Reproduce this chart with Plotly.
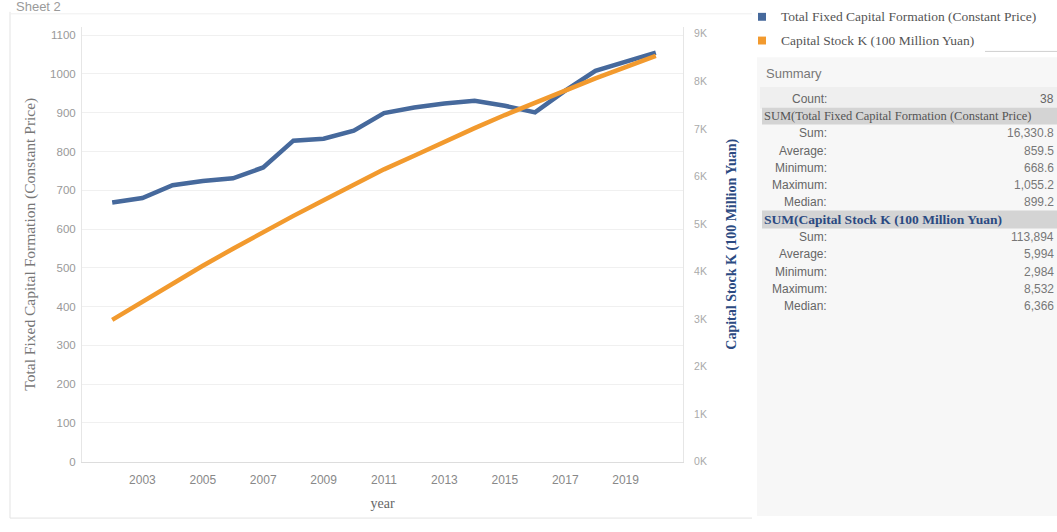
import plotly.graph_objects as go

years = list(range(2002, 2021))
tfcf = [668.6, 680, 713, 724, 731, 759, 828, 833, 854, 899.2, 913.8, 924, 931, 918, 901, 957, 1008, 1033, 1055.2]
capital_stock = [2984, 3370, 3745, 4120, 4480, 4830, 5170, 5500, 5820, 6148, 6435, 6730, 7015, 7290, 7555, 7810, 8060, 8300, 8532]
x_ticks = [2003, 2005, 2007, 2009, 2011, 2013, 2015, 2017, 2019]
left_ticks = list(range(0, 1200, 100))
right_ticks = list(range(0, 10000, 1000))
right_ticktext = [f"{v // 1000}K" for v in right_ticks]

summary_labels = ["Sum:", "Average:", "Minimum:", "Maximum:", "Median:"]
summary_tfcf = ["16,330.8", "859.5", "668.6", "1,055.2", "899.2"]
summary_k = ["113,894", "5,994", "2,984", "8,532", "6,366"]

W, H = 1057, 532
BLUE = "#46699c"
ORANGE = "#f29a2e"
SERIF = "Liberation Serif"
SANS = "Liberation Sans"


def px(x):
    return x / W


def py(y):
    return (H - y) / H


fig = go.Figure()
fig.add_trace(go.Scatter(x=years, y=tfcf, mode="lines", line=dict(color=BLUE, width=4.5),
                         name="Total Fixed Capital Formation (Constant Price)", yaxis="y"))
fig.add_trace(go.Scatter(x=years, y=capital_stock, mode="lines", line=dict(color=ORANGE, width=4.5),
                         name="Capital Stock K (100 Million Yuan)", yaxis="y2"))

shapes = []
annotations = []

# outer frame of the chart sheet
shapes.append(dict(type="line", xref="paper", yref="paper", x0=px(10), x1=px(10), y0=py(12), y1=py(524),
                   line=dict(color="#e3e3e3", width=1)))
shapes.append(dict(type="line", xref="paper", yref="paper", x0=px(10), x1=px(752), y0=py(524), y1=py(524),
                   line=dict(color="#e3e3e3", width=1)))
shapes.append(dict(type="line", xref="paper", yref="paper", x0=px(10), x1=px(752), y0=py(14), y1=py(14),
                   line=dict(color="#efefef", width=1)))

# summary panel
shapes.append(dict(type="rect", xref="paper", yref="paper", x0=px(757), x1=px(1057), y0=py(58), y1=py(522),
                   fillcolor="#f7f7f7", line=dict(width=0), layer="below"))
shapes.append(dict(type="rect", xref="paper", yref="paper", x0=px(760), x1=px(1057), y0=py(88), y1=py(110),
                   fillcolor="#efefef", line=dict(width=0), layer="below"))
shapes.append(dict(type="rect", xref="paper", yref="paper", x0=px(762), x1=px(1057), y0=py(109), y1=py(126),
                   fillcolor="#d4d4d4", line=dict(width=0), layer="below"))
shapes.append(dict(type="rect", xref="paper", yref="paper", x0=px(762), x1=px(1057), y0=py(213), y1=py(231),
                   fillcolor="#d4d4d4", line=dict(width=0), layer="below"))
shapes.append(dict(type="line", xref="paper", yref="paper", x0=px(985), x1=px(1057), y0=py(52), y1=py(52),
                   line=dict(color="#cfcfcf", width=1)))

# legend swatches
shapes.append(dict(type="rect", xref="paper", yref="paper", x0=px(758), x1=px(766), y0=py(13), y1=py(21),
                   fillcolor=BLUE, line=dict(width=0)))
shapes.append(dict(type="rect", xref="paper", yref="paper", x0=px(758), x1=px(766), y0=py(37), y1=py(45),
                   fillcolor=ORANGE, line=dict(width=0)))
annotations.append(dict(xref="paper", yref="paper", x=px(779), y=py(17), text=fig.data[0].name,
                        showarrow=False, xanchor="left", yanchor="middle",
                        font=dict(family=SERIF, size=13.5, color="#555555")))
annotations.append(dict(xref="paper", yref="paper", x=px(779), y=py(41), text=fig.data[1].name,
                        showarrow=False, xanchor="left", yanchor="middle",
                        font=dict(family=SERIF, size=13.5, color="#555555")))

# sheet title
annotations.append(dict(xref="paper", yref="paper", x=px(14), y=py(7), text="Sheet 2",
                        showarrow=False, xanchor="left", yanchor="middle",
                        font=dict(family=SANS, size=13, color="#9a9a9a")))

# summary texts
annotations.append(dict(xref="paper", yref="paper", x=px(764), y=py(74), text="Summary",
                        showarrow=False, xanchor="left", yanchor="middle",
                        font=dict(family=SANS, size=13, color="#777777")))
annotations.append(dict(xref="paper", yref="paper", x=px(829), y=py(100), text="Count:",
                        showarrow=False, xanchor="right", yanchor="middle",
                        font=dict(family=SANS, size=12, color="#666666")))
annotations.append(dict(xref="paper", yref="paper", x=px(1056), y=py(100), text="38",
                        showarrow=False, xanchor="right", yanchor="middle",
                        font=dict(family=SANS, size=12, color="#666666")))
annotations.append(dict(xref="paper", yref="paper", x=px(762), y=py(117),
                        text="SUM(Total Fixed Capital Formation (Constant Price)",
                        showarrow=False, xanchor="left", yanchor="middle",
                        font=dict(family=SERIF, size=12.5, color="#555555")))
annotations.append(dict(xref="paper", yref="paper", x=px(762), y=py(222),
                        text="<b>SUM(Capital Stock K (100 Million Yuan)</b>",
                        showarrow=False, xanchor="left", yanchor="middle",
                        font=dict(family=SERIF, size=13.5, color="#2b4a82")))
for i, lab in enumerate(summary_labels):
    y1 = 135 + i * 17.4
    y2 = 240 + i * 17.4
    for yy, val in ((y1, summary_tfcf[i]), (y2, summary_k[i])):
        annotations.append(dict(xref="paper", yref="paper", x=px(829), y=py(yy), text=lab,
                                showarrow=False, xanchor="right", yanchor="middle",
                                font=dict(family=SANS, size=12, color="#666666")))
        annotations.append(dict(xref="paper", yref="paper", x=px(1056), y=py(yy), text=val,
                                showarrow=False, xanchor="right", yanchor="middle",
                                font=dict(family=SANS, size=12, color="#777777")))

fig.update_layout(
    width=W, height=H,
    margin=dict(l=0, r=0, t=0, b=0),
    paper_bgcolor="white", plot_bgcolor="white",
    showlegend=False,
    shapes=shapes, annotations=annotations,
    xaxis=dict(domain=[px(82), px(683)], range=[2001.0, 2020.9], tickvals=x_ticks,
               ticktext=[str(v) for v in x_ticks], showgrid=False, zeroline=False,
               showline=True, linecolor="#dddddd", ticks="", ticklabelstandoff=7,
               tickfont=dict(family=SANS, size=12, color="#888888"),
               title=dict(text="year", font=dict(family=SERIF, size=14, color="#666666"), standoff=12)),
    yaxis=dict(domain=[py(467), py(27)], range=[0, 1122], tickvals=left_ticks,
               showgrid=True, gridcolor="#f0f0f0", zeroline=False, showline=True, linecolor="#e6e6e6",
               ticks="", ticklabelstandoff=3, tickfont=dict(family=SANS, size=11.5, color="#999999"),
               title=dict(text="Total Fixed Capital Formation (Constant Price)",
                          font=dict(family=SERIF, size=15.5, color="#777777"), standoff=10)),
    yaxis2=dict(overlaying="y", side="right", range=[0, 9148], tickvals=right_ticks,
                ticktext=right_ticktext, showgrid=False, zeroline=False, showline=True,
                linecolor="#e6e6e6", ticks="", ticklabelstandoff=8,
                tickfont=dict(family=SANS, size=10.5, color="#aaaaaa"),
                title=dict(text="<b>Capital Stock K (100 Million Yuan)</b>",
                           font=dict(family=SERIF, size=14, color="#2b4a82"), standoff=20)),
)

fig.write_html("out.html")
